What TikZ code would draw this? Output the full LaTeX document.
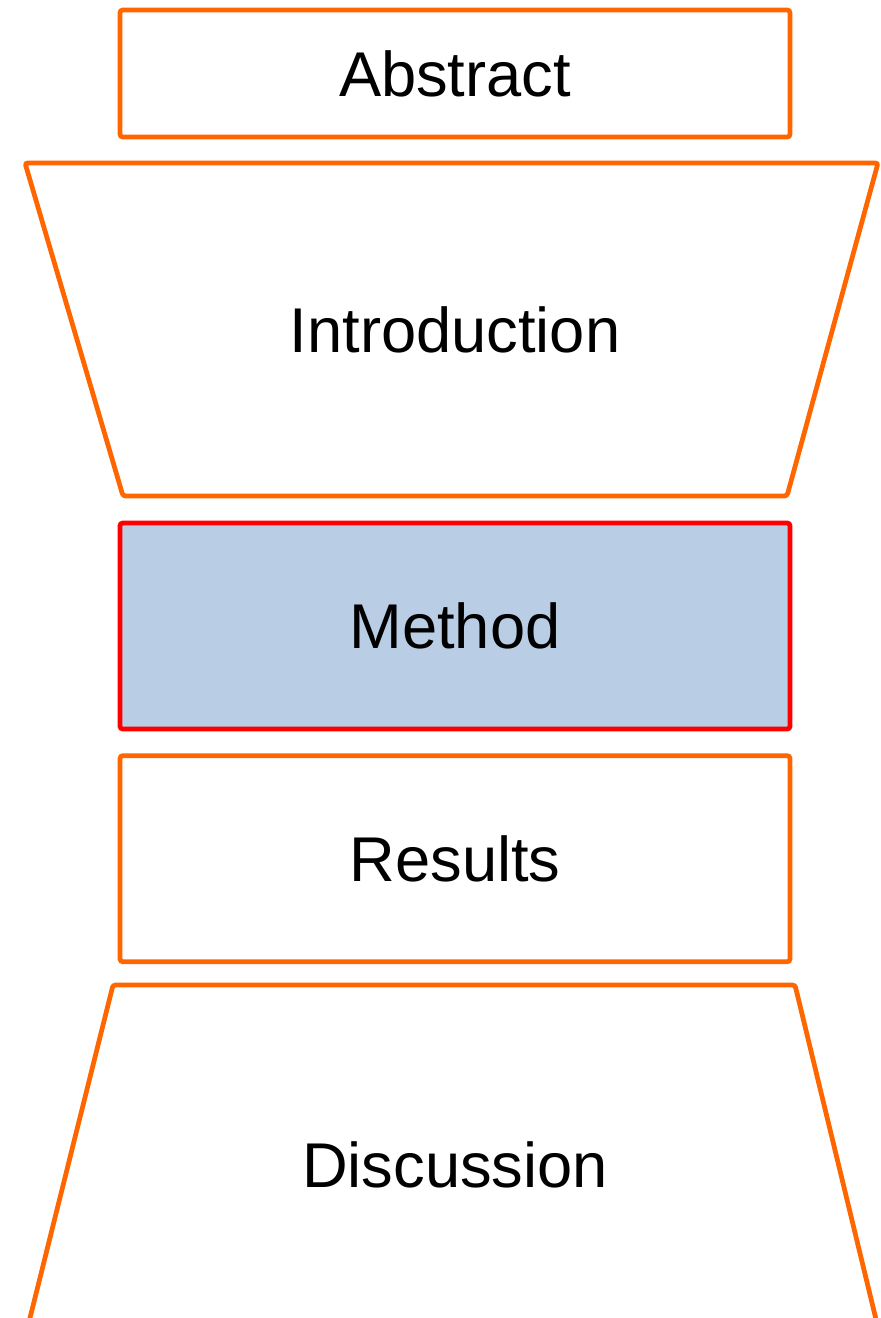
\documentclass[tikz,border=0pt]{standalone}
\usepackage{fontspec}
\setmainfont{Liberation Sans}
\usetikzlibrary{positioning}
\definecolor{secorange}{HTML}{FF6600}
\definecolor{methodblue}{HTML}{B9CDE5}
\begin{document}
\begin{tikzpicture}[
		x = 0.02cm, y = -0.02cm, % pixel grid
		line width = 2.7pt, % border width
		rounded corners = 1.5pt,
		section/.style = {draw=secorange, fill=white, minimum width=13.4cm, minimum height=4.12cm, inner sep=0pt},
		label/.style = {font=\fontsize{36}{43}\selectfont}
		]
		
		\clip (0,0) rectangle (880,1318);
		
		\node[section, minimum height=2.54cm, label] (abstract) at (455,73.5) {Abstract};
		
		\draw[draw=secorange] (25,163) -- (878,163) -- (787,496) -- (123,496) -- cycle;
		\node[label] (intro) at (455,330) {Introduction};
		
		\node[section, draw=red, fill=methodblue, label] (method) at (455,626) {Method};
		\node[section, label] (results) [below=0.44cm of method] {Results};
		
		\draw[draw=secorange] (24.5,1340) -- (113,985) -- (795,985) -- (881,1340);
		\node[label] (discussion) at (455,1165) {Discussion};
		
	\end{tikzpicture}
\end{document}
